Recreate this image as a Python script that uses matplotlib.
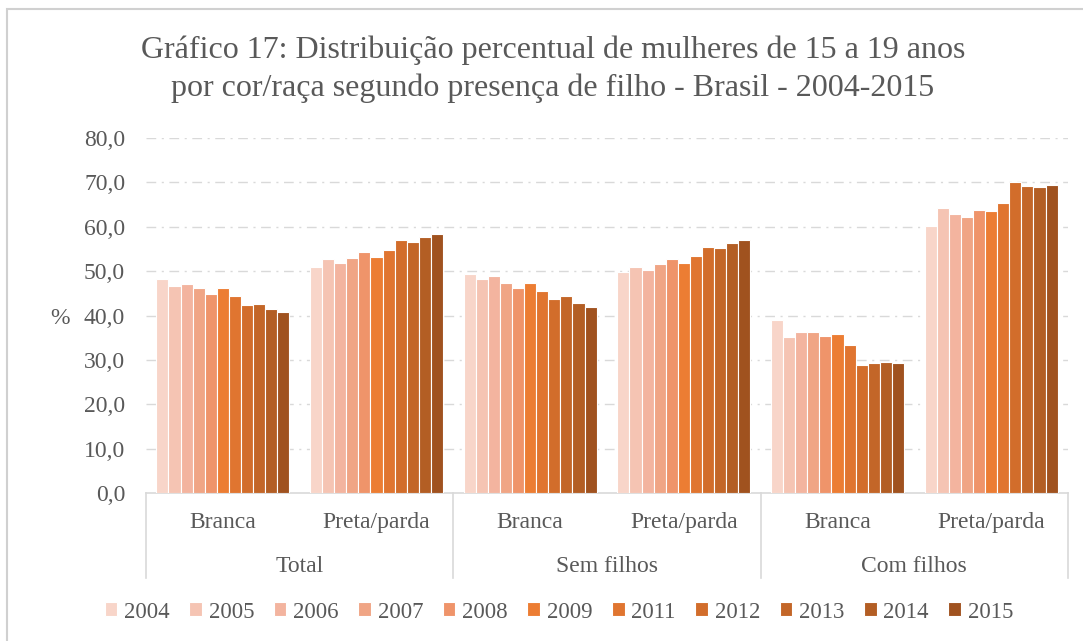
import matplotlib
matplotlib.use("Agg")
import matplotlib.pyplot as plt
import numpy as np
from matplotlib.patches import Rectangle
from matplotlib.lines import Line2D

plt.rcParams['font.family'] = ['Liberation Serif', 'DejaVu Serif']
plt.rcParams['lines.scale_dashes'] = False

years = ['2004', '2005', '2006', '2007', '2008', '2009', '2011', '2012', '2013', '2014', '2015']
subcats = ['Branca', 'Preta/parda', 'Branca', 'Preta/parda', 'Branca', 'Preta/parda']
groups = ['Total', 'Sem filhos', 'Com filhos']

total_branca = [48.2, 46.6, 47.2, 46.1, 44.9, 46.3, 44.3, 42.3, 42.7, 41.5, 40.7]
total_preta = [51.0, 52.7, 51.8, 53.0, 54.2, 53.1, 54.8, 57.0, 56.6, 57.7, 58.3]
sem_branca = [49.4, 48.2, 48.8, 47.4, 46.1, 47.4, 45.5, 43.8, 44.3, 42.9, 42.0]
sem_preta = [49.7, 51.0, 50.3, 51.7, 52.8, 51.8, 53.5, 55.4, 55.1, 56.3, 57.1]
com_branca = [39.0, 35.1, 36.2, 36.3, 35.3, 35.8, 33.3, 28.9, 29.2, 29.6, 29.2]
com_preta = [60.2, 64.3, 62.9, 62.3, 63.8, 63.6, 65.3, 70.1, 69.2, 68.9, 69.4]

colors = ['#F8D5C9', '#F5C4B3', '#F3B49F', '#F0A585', '#EF946A', '#EC7D33',
          '#E07530', '#D26D2B', '#C36628', '#B35E24', '#A0521F']

series_by_cat = [total_branca, total_preta, sem_branca, sem_preta, com_branca, com_preta]
data = np.array(series_by_cat).T  # shape (years, categories)

W, H = 1083, 641
fig = plt.figure(figsize=(W / 100, H / 100), dpi=100)
fig.patch.set_facecolor('white')

# outer border (only top/left visible in reference)
fig.add_artist(Rectangle((7 / W, 1 - 1200 / H), 2000 / W, (1200 - 9) / H,
                         transform=fig.transFigure, fill=False,
                         edgecolor='#D0D0D0', linewidth=1.5))

ax = fig.add_axes([146 / W, 1 - 493 / H, (1068 - 146) / W, (493 - 138) / H])

ncat = len(subcats)
nyear = len(years)
x = np.arange(ncat)
w = 133 / 153.67 / nyear
for i in range(nyear):
    ax.bar(x + (i - (nyear - 1) / 2) * w, data[i], width=w, color=colors[i],
           edgecolor='white', linewidth=0.8, label=years[i], zorder=3)

ax.set_xlim(-0.5, ncat - 0.5)
ax.set_ylim(0, 80)
yt = np.arange(0, 81, 10)
ax.set_yticks(yt)
ax.set_yticklabels([f'{v:.1f}'.replace('.', ',') for v in yt])
for v in yt[1:]:
    ax.axhline(v, color='#D9D9D9', linewidth=1.0, dashes=(7, 4, 1.5, 4), zorder=1)

for s in ['top', 'right', 'left']:
    ax.spines[s].set_visible(False)
ax.spines['bottom'].set_color('#D9D9D9')
ax.spines['bottom'].set_linewidth(1.2)
ax.tick_params(axis='y', length=0, labelsize=17, labelcolor='#595959', pad=15)
ax.tick_params(axis='x', length=0, labelbottom=False)

text_c = '#595959'
for i, lab in enumerate(subcats):
    ax.text(i, -0.082, lab, transform=ax.get_xaxis_transform(), ha='center', va='center',
            fontsize=17, color=text_c)
for j, g in enumerate(groups):
    ax.text(2 * j + 0.5, -0.207, g, transform=ax.get_xaxis_transform(), ha='center', va='center',
            fontsize=17, color=text_c)
for b in [-0.5, 1.5, 3.5, 5.5]:
    ax.add_line(Line2D([b, b], [0, -0.239], transform=ax.get_xaxis_transform(),
                       color='#D9D9D9', linewidth=1.2, clip_on=False))

fig.text(60 / W, 1 - 318 / H, '%', ha='center', va='center', fontsize=17, color=text_c)

fig.text(553 / W, 1 - 50 / H, 'Gráfico 17: Distribuição percentual de mulheres de 15 a 19 anos',
         ha='center', va='center', fontsize=23, color=text_c)
fig.text(553 / W, 1 - 88 / H, 'por cor/raça segundo presença de filho - Brasil - 2004-2015',
         ha='center', va='center', fontsize=23, color=text_c)

handles, labels = ax.get_legend_handles_labels()
leg = fig.legend(handles, labels, loc='center', bbox_to_anchor=(559 / W, 1 - 612 / H),
                 ncol=nyear, frameon=False, fontsize=16.5, handlelength=0.55, handleheight=0.55,
                 handletextpad=0.3, columnspacing=0.85, borderaxespad=0)
for t in leg.get_texts():
    t.set_color(text_c)

fig.savefig('out.png', dpi=100, facecolor='white')
